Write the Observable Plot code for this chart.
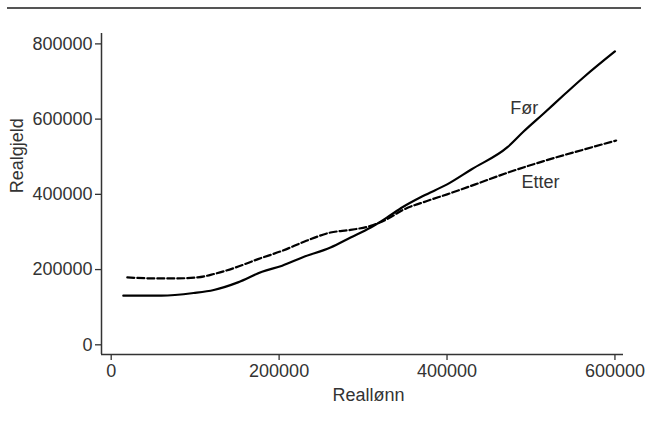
<!DOCTYPE html>
<html>
<head>
<meta charset="utf-8">
<script src="https://cdn.jsdelivr.net/npm/d3@7"></script>
<script src="https://cdn.jsdelivr.net/npm/@observablehq/plot@0.6"></script>
<style>
  html, body { margin: 0; padding: 0; background: #fff; }
  #wrap { position: relative; width: 648px; height: 427px; }
  #rule { position: absolute; left: 7px; top: 7px; width: 634px; height: 1.5px; background: #555; }
</style>
</head>
<body>
<div id="wrap"><div id="rule"></div></div>
<script>
// Realgjeld vs Reallønn — Før (solid) and Etter (dashed)
const forX = [14400, 59900, 98200, 122200, 151000, 179700, 203700, 227600, 261200, 285100, 309100, 328300, 347400, 371400, 400100, 428900, 472000, 491200, 515100, 539100, 563100, 600000];
const forY = [130700, 130700, 137700, 145700, 166000, 194300, 210200, 232200, 258700, 285200, 311700, 338200, 366400, 395600, 426500, 466200, 525400, 567000, 615000, 664000, 712000, 780000];

const etterX = [19200, 50300, 79100, 103000, 122200, 146200, 174900, 203700, 232400, 261200, 285100, 309100, 328300, 347400, 376200, 400100, 433700, 472000, 515100, 563100, 601400];
const etterY = [179200, 176600, 176600, 179200, 188100, 204000, 227800, 249900, 276400, 298500, 305500, 316100, 333800, 358500, 382300, 400000, 426500, 457400, 488300, 519200, 543000];

const xTicks = [0, 200000, 400000, 600000];
const yTicks = [0, 200000, 400000, 600000, 800000];
const xDomain = [-11555, 610200];
const yDomain = [-25760, 827600];

const seriesLabels = ["Før", "Etter"];
const labelX = [492000, 511300];
const labelY = [629600, 430900];

const xTitle = "Reallønn";
const yTitle = "Realgjeld";

const forData = forX.map((x, i) => ({x, y: forY[i]}));
const etterData = etterX.map((x, i) => ({x, y: etterY[i]}));
const labels = seriesLabels.map((t, i) => ({t, x: labelX[i], y: labelY[i]}));

const ink = "#333";
const chart = Plot.plot({
  width: 648,
  height: 427,
  marginLeft: 101,
  marginRight: 25,
  marginTop: 33,
  marginBottom: 73,
  style: {fontFamily: "'Liberation Sans', Arial, sans-serif", fontSize: "18px", color: ink, background: "transparent"},
  x: {domain: xDomain},
  y: {domain: yDomain},
  marks: [
    Plot.axisX({ticks: xTicks, tickFormat: "d", tickSize: 6, tickPadding: 4, label: null, fontSize: 18, stroke: ink, strokeWidth: 1.3}),
    Plot.axisY({ticks: yTicks, tickFormat: "d", tickSize: 6, tickPadding: 3, label: null, fontSize: 18, stroke: ink, strokeWidth: 1.3}),
    Plot.ruleY([yDomain[0]], {stroke: ink, strokeWidth: 1.5}),
    Plot.ruleX([xDomain[0]], {stroke: ink, strokeWidth: 1.5}),
    Plot.line(forData, {x: "x", y: "y", stroke: "#000", strokeWidth: 2.2, curve: "monotone-x"}),
    Plot.line(etterData, {x: "x", y: "y", stroke: "#000", strokeWidth: 2.2, strokeDasharray: "7,3", curve: "monotone-x"}),
    Plot.text(labels, {x: "x", y: "y", text: "t", fontSize: 18, fill: ink}),
    Plot.text([xTitle], {frameAnchor: "bottom", x: [306500], text: d => d, dy: 41, textAnchor: "middle", lineAnchor: "middle", fontSize: 18, fill: ink}),
    Plot.text([yTitle], {frameAnchor: "left", y: [502800], text: d => d, dx: -84, rotate: -90, textAnchor: "middle", lineAnchor: "middle", fontSize: 18, fill: ink})
  ]
});
document.getElementById("wrap").appendChild(chart);
</script>
</body>
</html>
